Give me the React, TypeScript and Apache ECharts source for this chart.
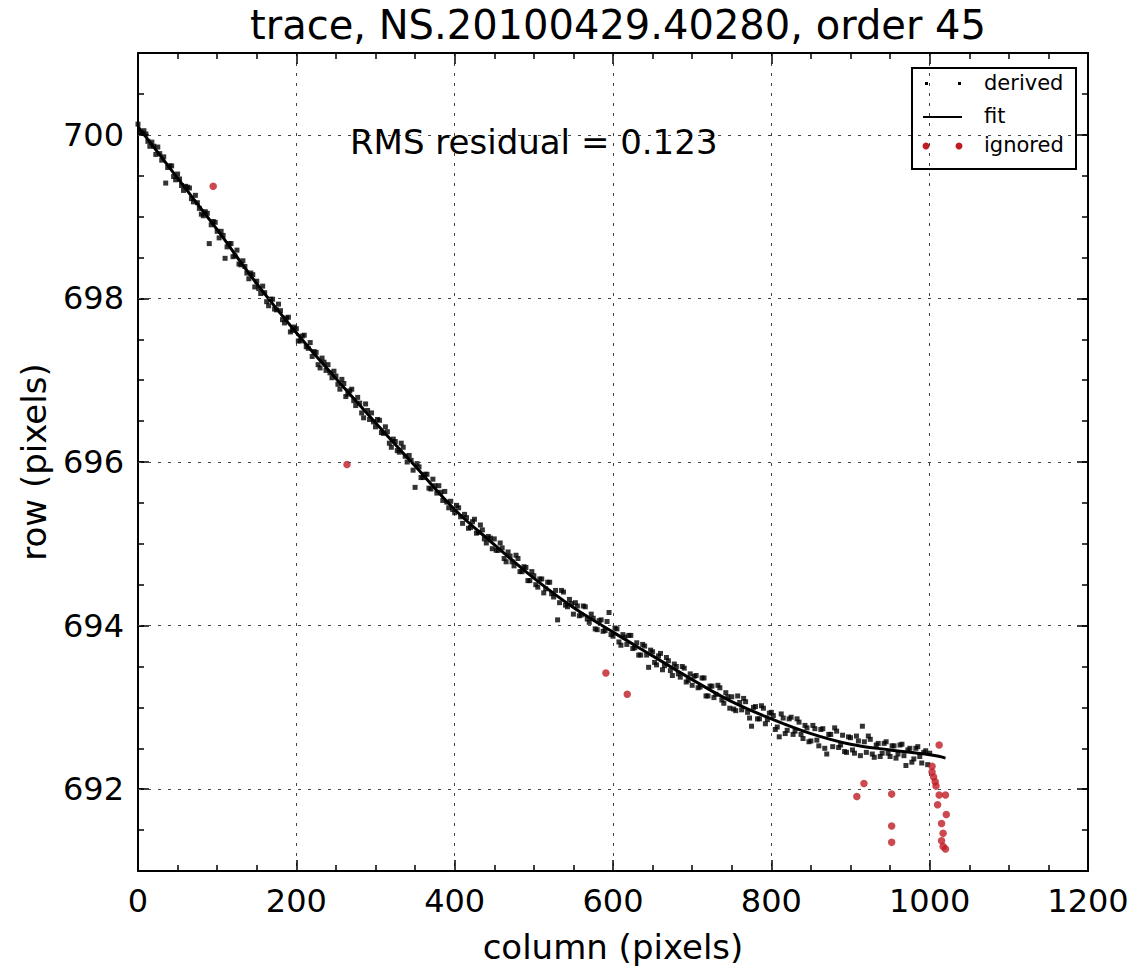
import React, { useEffect, useRef } from "react";
import * as echarts from "echarts";

const TITLE = "trace, NS.20100429.40280, order 45";
const X_NAME = "column (pixels)";
const Y_NAME = "row (pixels)";
const RMS_TEXT = "RMS residual = 0.123";
const Y_MAJOR = [692, 694, 696, 698, 700];

// derived trace rows, one per 5 columns starting at column 0
const derivedStep = 5;
const derivedRowsA = [
  700.13, 700.02, 700.01, 699.86, 699.86, 699.85, 699.69, 699.41, 699.62, 699.49,
  699.52, 699.38, 699.37, 699.35, 699.18, 699.17, 699.03, 699.06, 698.67, 698.94,
  698.82, 698.82, 698.49, 698.67, 698.51, 698.59, 698.41, 698.39, 698.24, 698.29,
  698.21, 698.06, 698.07, 697.91, 697.99, 697.86, 697.85, 697.70, 697.77, 697.61,
  697.63, 697.48, 697.55, 697.39, 697.29, 697.34, 697.15, 697.22, 697.19, 697.03,
  697.05, 696.89, 696.96, 696.83, 696.89, 696.69, 696.72, 696.54, 696.63, 696.60,
  696.43, 696.51, 696.35, 696.37, 696.18, 696.25, 696.12, 696.18, 696.00, 696.02,
  695.69, 695.94, 695.81, 695.85, 695.67, 695.71, 695.71, 695.53, 695.51, 695.52,
  695.38, 695.44, 695.25, 695.32, 695.20, 695.30, 695.14, 695.17, 695.01, 695.07,
  695.06, 694.92, 694.95, 694.78, 694.85, 694.73, 694.82, 694.66, 694.71, 694.55,
  694.61, 694.47, 694.57, 694.45, 694.53, 694.35, 694.07, 694.43, 694.25, 694.32,
  694.14, 694.24, 694.13, 694.23, 694.04, 694.09, 693.95, 694.07, 693.94, 694.16,
  693.87, 693.96, 693.76, 693.86, 693.88, 693.72, 693.79, 693.64, 693.75, 693.49,
  693.68, 693.52, 693.66, 693.51, 693.57, 693.39, 693.50, 693.37, 693.48, 693.33,
  693.27, 693.39, 693.25, 693.36, 693.14, 693.26, 693.16, 693.24, 693.05, 693.13,
  693.13, 692.96, 693.06, 693.11, 692.94, 692.77, 693.01, 692.86, 692.99, 692.85,
  692.94, 692.73, 692.64, 692.87, 692.72, 692.88, 692.71, 692.82, 692.62, 692.75,
  692.59, 692.74, 692.53, 692.74, 692.43, 692.67, 692.75, 692.51, 692.66, 692.45,
  692.63, 692.44, 692.59, 692.77, 692.45, 692.61, 692.39, 692.56, 692.44, 692.58,
  692.40, 692.53, 692.43, 692.55, 692.29, 692.50, 692.37, 692.52, 692.32, 692.47,
  692.44,
];
// second set of derived rows, one per 5 columns starting at column 2.5
const derivedOffsetB = 2.5;
const derivedRowsB = [
  700.03, 700.05, 699.92, 699.91, 699.76, 699.77, 699.73, 699.60, 699.62, 699.45,
  699.46, 699.32, 699.36, 699.22, 699.26, 699.10, 699.01, 699.04, 698.90, 698.93,
  698.74, 698.77, 698.63, 698.67, 698.52, 698.42, 698.46, 698.31, 698.31, 698.14,
  698.12, 698.15, 697.96, 697.99, 697.87, 697.93, 697.74, 697.76, 697.59, 697.65,
  697.48, 697.54, 697.41, 697.46, 697.35, 697.19, 697.27, 697.12, 697.09, 697.11,
  696.95, 697.01, 696.80, 696.87, 696.75, 696.79, 696.60, 696.71, 696.52, 696.49,
  696.52, 696.36, 696.43, 696.23, 696.28, 696.14, 696.23, 696.07, 696.08, 695.90,
  695.98, 695.81, 695.85, 695.68, 695.79, 695.62, 695.63, 695.64, 695.44, 695.42,
  695.47, 695.33, 695.36, 695.19, 695.27, 695.13, 695.23, 695.06, 695.09, 694.94,
  694.92, 695.01, 694.82, 694.90, 694.78, 694.86, 694.66, 694.72, 694.55, 694.66,
  694.50, 694.57, 694.40, 694.53, 694.39, 694.43, 694.28, 694.41, 694.23, 694.27,
  694.28, 694.12, 694.24, 694.08, 694.14, 693.96, 694.06, 693.93, 694.05, 693.89,
  693.97, 693.80, 693.89, 693.77, 693.88, 693.73, 693.64, 693.77, 693.64, 693.70,
  693.55, 693.63, 693.46, 693.61, 693.45, 693.53, 693.41, 693.50, 693.31, 693.41,
  693.38, 693.24, 693.36, 693.14, 693.26, 693.12, 693.27, 693.09, 693.18, 692.99,
  692.98, 693.14, 692.97, 693.07, 692.87, 693.00, 692.86, 693.02, 692.80, 692.93,
  692.90, 692.76, 692.92, 692.68, 692.86, 692.67, 692.86, 692.67, 692.78, 692.58,
  692.78, 692.60, 692.73, 692.50, 692.67, 692.52, 692.71, 692.54, 692.46, 692.64,
  692.48, 692.65, 692.41, 692.58, 692.65, 692.43, 692.54, 692.40, 692.56, 692.44,
  692.53, 692.38, 692.54, 692.41, 692.48, 692.33, 692.50, 692.40, 692.45, 692.30,
];

const fitCols = [0, 50, 100, 150, 200, 250, 300, 350, 400, 450, 500, 550, 600, 650, 700, 750, 800, 850, 900, 950, 1000, 1020];
const fitRows = [700.10, 699.47, 698.84, 698.18, 697.58, 697.02, 696.48, 695.95, 695.42, 694.99, 694.58, 694.22, 693.92, 693.63, 693.34, 693.07, 692.86, 692.68, 692.55, 692.48, 692.42, 692.38];

const ignoredCols = [95, 264, 591, 618, 908, 917, 952, 952, 952, 1012, 1003, 1003, 1005, 1007, 1008, 1012, 1020, 1010, 1021, 1015, 1017, 1015, 1017, 1020];
const ignoredRows = [699.37, 695.97, 693.42, 693.16, 691.91, 692.07, 691.94, 691.55, 691.35, 692.54, 692.28, 692.21, 692.15, 692.09, 692.04, 691.93, 691.93, 691.81, 691.69, 691.58, 691.46, 691.37, 691.30, 691.27];

const FONT = "DejaVu Sans";
const RED = "#c01c24";

export default function App() {
  const ref = useRef<HTMLDivElement>(null);
  useEffect(() => {
    if (!ref.current) return;
    const chart = echarts.init(ref.current, null, { renderer: "svg" });
    const derived = [
      ...derivedRowsA.map((r, i) => [i * derivedStep, r]),
      ...derivedRowsB.map((r, i) => [derivedOffsetB + i * derivedStep, r]),
    ];
    const fit = fitCols.map((c, i) => [c, fitRows[i]]);
    const ignored = ignoredCols.map((c, i) => [c, ignoredRows[i]]);
    const gridDash = { color: "#444", width: 1, type: [3, 7] as any };
    const minorY = {
      type: "value", min: 691, max: 701, interval: 0.5,
      axisLine: { show: true, lineStyle: { color: "#000", width: 2 } },
      axisTick: { show: true, inside: true, length: 6, lineStyle: { color: "#000", width: 1.5 } },
      axisLabel: { show: false }, splitLine: { show: false },
    };
    const majorY = {
      type: "value", min: 691, max: 701, interval: 1,
      axisLine: { show: false },
      axisTick: { show: true, inside: true, length: 11, customValues: Y_MAJOR, lineStyle: { color: "#000", width: 1.5 } },
      splitLine: { show: false },
    };
    const xBase = {
      type: "value", min: 0, max: 1200, interval: 200,
      axisLine: { show: true, lineStyle: { color: "#000", width: 2 } },
      axisTick: { show: true, inside: true, length: 11, lineStyle: { color: "#000", width: 1.5 } },
      minorTick: { show: true, splitNumber: 4, length: 6, lineStyle: { color: "#000", width: 1.5 } },
    };
    chart.setOption({
      animation: false,
      backgroundColor: "#fff",
      textStyle: { fontFamily: FONT },
      title: {
        text: TITLE, left: 613, top: 0, textAlign: "center",
        textStyle: { fontFamily: FONT, fontSize: 40, fontWeight: "normal", color: "#000" },
      },
      grid: { left: 138, right: 45, top: 53, bottom: 99, containLabel: false },
      xAxis: [
        {
          ...xBase, position: "bottom",
          axisLabel: { show: true, fontSize: 32, color: "#000", margin: 14, fontFamily: FONT, formatter: (v: number) => String(v) },
          splitLine: { show: true, lineStyle: gridDash },
          name: X_NAME, nameLocation: "middle", nameGap: 59,
          nameTextStyle: { fontSize: 34, color: "#000", fontFamily: FONT },
        },
        {
          ...xBase, position: "top",
          axisLabel: { show: false }, splitLine: { show: false },
        },
      ],
      yAxis: [
        { ...minorY, position: "left" },
        {
          ...majorY, position: "left",
          axisLabel: { show: true, customValues: Y_MAJOR, fontSize: 32, color: "#000", margin: 14, fontFamily: FONT, formatter: (v: number) => String(v) },
          name: Y_NAME, nameLocation: "middle", nameGap: 87, nameRotate: 90,
          nameTextStyle: { fontSize: 34, color: "#000", fontFamily: FONT },
        },
        { ...minorY, position: "right" },
        { ...majorY, position: "right", axisLabel: { show: false } },
      ],
      series: [
        {
          type: "scatter", data: [], xAxisIndex: 0, yAxisIndex: 0, silent: true,
          markLine: {
            silent: true, symbol: "none", label: { show: false },
            lineStyle: gridDash,
            data: Y_MAJOR.map((v) => ({ yAxis: v })),
          },
        },
        {
          name: "derived", type: "scatter", data: derived, xAxisIndex: 0, yAxisIndex: 0,
          symbol: "rect", symbolSize: 5, itemStyle: { color: "#000" },
        },
        {
          name: "fit", type: "line", data: fit, xAxisIndex: 0, yAxisIndex: 0,
          smooth: 0.4, showSymbol: false, symbol: "none",
          lineStyle: { color: "#000", width: 3 },
        },
        {
          name: "ignored", type: "scatter", data: ignored, xAxisIndex: 0, yAxisIndex: 0,
          symbol: "circle", symbolSize: 7.5, itemStyle: { color: RED },
        },
      ],
      graphic: [
        {
          type: "text", left: 350, top: 125, z: 100,
          style: { text: RMS_TEXT, fontSize: 34, fontFamily: FONT, fill: "#000" },
        },
        {
          type: "group", left: 911, top: 67, z: 100,
          children: [
            { type: "rect", shape: { x: 0, y: 0, width: 164, height: 101 }, style: { fill: "#fff", stroke: "#000", lineWidth: 2 } },
            { type: "rect", shape: { x: 13, y: 14, width: 3, height: 3 }, style: { fill: "#000" } },
            { type: "rect", shape: { x: 46, y: 14, width: 3, height: 3 }, style: { fill: "#000" } },
            { type: "text", x: 72, y: 15, style: { text: "derived", fontSize: 21, fontFamily: FONT, fill: "#000", verticalAlign: "middle" } },
            { type: "line", shape: { x1: 11, y1: 49, x2: 50, y2: 49 }, style: { stroke: "#000", lineWidth: 2 } },
            { type: "text", x: 72, y: 48, style: { text: "fit", fontSize: 21, fontFamily: FONT, fill: "#000", verticalAlign: "middle" } },
            { type: "circle", shape: { cx: 14, cy: 78, r: 3.5 }, style: { fill: RED } },
            { type: "circle", shape: { cx: 47, cy: 78, r: 3.5 }, style: { fill: RED } },
            { type: "text", x: 72, y: 77, style: { text: "ignored", fontSize: 21, fontFamily: FONT, fill: "#000", verticalAlign: "middle" } },
          ],
        },
      ],
    });
    return () => chart.dispose();
  }, []);
  return <div ref={ref} style={{ position: "absolute", left: 0, top: 0, width: 1133, height: 970 }} />;
}
